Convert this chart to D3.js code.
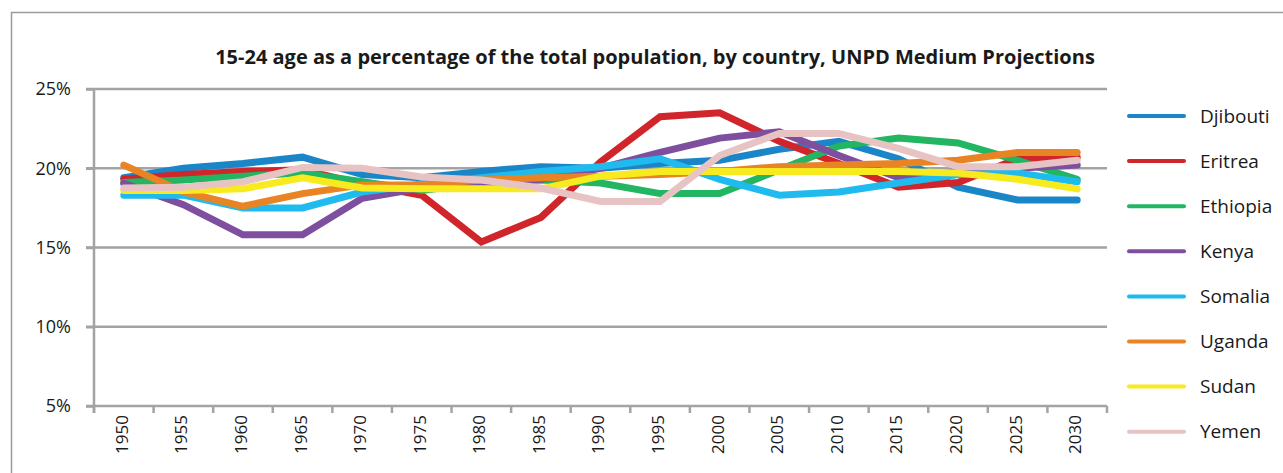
<!DOCTYPE html>
<html>
<head>
<meta charset="utf-8">
<script src="https://cdn.jsdelivr.net/npm/d3@7"></script>
<style>
  body { margin: 0; background: #fff; }
  text { font-family: "Open Sans", sans-serif; fill: #1a1a1a; }
</style>
</head>
<body>
<div id="chart"></div>
<script>
// Datos (porcentaje de 15-24 años sobre la población total)
const years = ["1950","1955","1960","1965","1970","1975","1980","1985","1990","1995","2000","2005","2010","2015","2020","2025","2030"];
const countries = ["Djibouti","Eritrea","Ethiopia","Kenya","Somalia","Uganda","Sudan","Yemen"];
const colors = ["#1a86c8","#d0252a","#22b562","#7f4f9f","#1fbbee","#e98424","#f7ea1f","#e8c3c3"];

const djibouti = [19.4,20.0,20.3,20.7,19.6,19.4,19.8,20.1,20.0,20.3,20.5,21.2,21.7,20.6,18.8,18.0,18.0];
const eritrea  = [19.3,19.6,19.8,19.9,19.0,18.3,15.35,16.9,20.4,23.25,23.5,21.7,20.3,18.8,19.1,20.6,20.7];
const ethiopia = [19.1,19.26,19.5,19.7,19.15,18.6,19.07,19.26,19.07,18.4,18.4,19.9,21.4,21.9,21.6,20.5,19.3];
const kenya    = [19.05,17.7,15.8,15.8,18.1,18.75,19.0,19.3,20.0,21.0,21.9,22.3,20.8,19.4,19.8,20.0,20.2];
const somalia  = [18.3,18.3,17.5,17.5,18.5,19.0,19.4,19.8,20.1,20.6,19.3,18.3,18.5,19.07,19.6,19.7,19.15];
const uganda   = [20.2,18.5,17.6,18.4,18.95,18.95,19.26,19.4,19.5,19.6,19.8,20.1,20.2,20.3,20.5,21.0,21.0];
const sudan    = [18.6,18.6,18.7,19.4,18.75,18.7,18.7,18.7,19.5,19.8,19.8,19.8,19.8,19.8,19.7,19.3,18.7];
const yemen    = [18.75,18.8,19.15,20.05,20.0,19.45,19.26,18.75,17.9,17.9,20.8,22.2,22.2,21.25,20.1,20.1,20.5];
const seriesValues = [djibouti, eritrea, ethiopia, kenya, somalia, uganda, sudan, yemen];

const yTicks = [5, 10, 15, 20, 25];
const title = "15-24 age as a percentage of the total population, by country, UNPD Medium Projections";

// Configuración del gráfico
const W = 1283, H = 473;
const margin = { top: 89, right: 176, bottom: 67, left: 94 };
const width = W - margin.left - margin.right;
const height = H - margin.top - margin.bottom;
const gridColor = "#a3a3a3";

const root = d3.select("#chart")
    .append("svg")
    .attr("width", W)
    .attr("height", H);

// Marco exterior
root.append("rect")
    .attr("x", 11.5).attr("y", 12.5)
    .attr("width", W).attr("height", H)
    .attr("fill", "none")
    .attr("stroke", "#9a9a9a")
    .attr("stroke-width", 1.5);

// Título
root.append("text")
    .attr("x", 655)
    .attr("y", 64)
    .attr("text-anchor", "middle")
    .style("font-size", "20px")
    .style("font-weight", "bold")
    .text(title);

const svg = root.append("g")
    .attr("transform", `translate(${margin.left},${margin.top})`);

// Escalas
const x = d3.scaleBand()
    .domain(years)
    .range([0, width]);

const y = d3.scaleLinear()
    .domain([5, 25])
    .range([height, 0]);

// Líneas de cuadrícula
svg.append("g")
    .selectAll("line")
    .data(yTicks.filter(t => t > 5))
    .enter()
    .append("line")
    .attr("x1", -8)
    .attr("x2", width)
    .attr("y1", d => y(d))
    .attr("y2", d => y(d))
    .attr("stroke", gridColor)
    .attr("stroke-width", 2.5);

// Eje Y
const yAxis = svg.append("g")
    .call(d3.axisLeft(y).tickValues(yTicks).tickFormat(d => d + "%").tickSize(8).tickPadding(15));
yAxis.select(".domain").remove();
yAxis.selectAll("line").attr("stroke", gridColor).attr("stroke-width", 2.5);
yAxis.selectAll("text").style("font-size", "18px").style("font-family", "'Open Sans', sans-serif");

svg.append("line")
    .attr("x1", 0).attr("x2", 0)
    .attr("y1", 0).attr("y2", height + 7)
    .attr("stroke", gridColor)
    .attr("stroke-width", 2.5);

// Eje X (marcas entre categorías)
const xAxis = svg.append("g")
    .attr("transform", `translate(0,${height})`)
    .call(d3.axisBottom(x).tickSize(0).tickPadding(0));
xAxis.select(".domain").remove();
xAxis.selectAll("text")
    .style("font-size", "17px")
    .style("font-family", "'Open Sans', sans-serif")
    .style("text-anchor", "end")
    .attr("transform", "rotate(-90)")
    .attr("x", -9)
    .attr("y", -2)
    .attr("dy", "0.35em");

svg.append("line")
    .attr("x1", -8).attr("x2", width)
    .attr("y1", height).attr("y2", height)
    .attr("stroke", gridColor)
    .attr("stroke-width", 2.5);

svg.append("g")
    .selectAll("line")
    .data(years.concat(["end"]))
    .enter()
    .append("line")
    .attr("x1", (d, i) => i * x.step())
    .attr("x2", (d, i) => i * x.step())
    .attr("y1", height)
    .attr("y2", height + 7)
    .attr("stroke", gridColor)
    .attr("stroke-width", 2.5);

// Líneas de las series
const line = d3.line()
    .x((d, i) => x(years[i]) + x.bandwidth() / 2)
    .y(d => y(d));

svg.append("g")
    .selectAll("path")
    .data(seriesValues)
    .enter()
    .append("path")
    .attr("d", d => line(d))
    .attr("fill", "none")
    .attr("stroke", (d, i) => colors[i])
    .attr("stroke-width", 7)
    .attr("stroke-linecap", "round")
    .attr("stroke-linejoin", "miter");

// Leyenda
const legend = root.append("g")
    .selectAll("g")
    .data(countries)
    .enter()
    .append("g")
    .attr("transform", (d, i) => `translate(1129,${116 + i * 45.1})`);

legend.append("line")
    .attr("x1", 0).attr("x2", 55)
    .attr("stroke", (d, i) => colors[i])
    .attr("stroke-width", 4)
    .attr("stroke-linecap", "round");

legend.append("text")
    .attr("x", 71)
    .attr("dy", "0.35em")
    .style("font-size", "19px")
    .text(d => d);
</script>
</body>
</html>
